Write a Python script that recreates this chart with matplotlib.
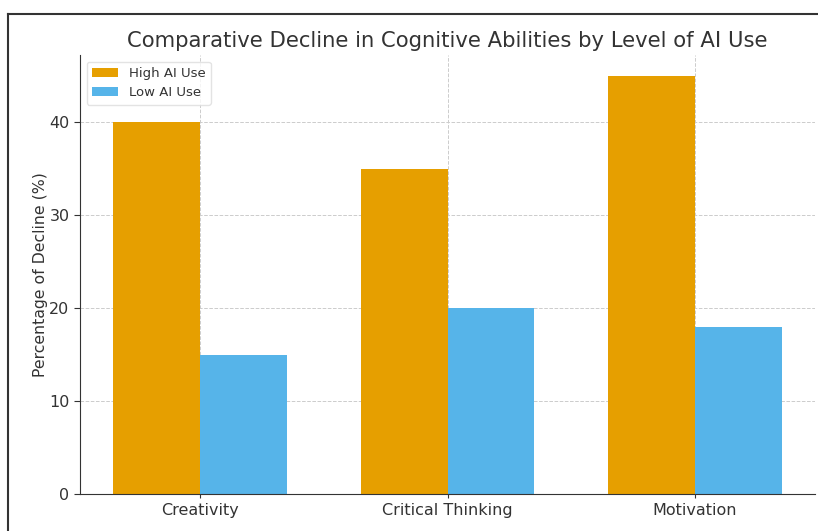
import numpy as np
import matplotlib
matplotlib.use("Agg")
import matplotlib.pyplot as plt
from matplotlib.lines import Line2D

categories = ["Creativity", "Critical Thinking", "Motivation"]
high_ai = [40, 35, 45]
low_ai = [15, 20, 18]
yticks = [0, 10, 20, 30, 40]

text_col = "#333333"
plt.rcParams["text.color"] = text_col
plt.rcParams["axes.labelcolor"] = text_col
plt.rcParams["xtick.color"] = text_col
plt.rcParams["ytick.color"] = text_col

fig = plt.figure(figsize=(8.18, 5.31), dpi=100)
ax = fig.add_axes([80 / 818, 1 - 494 / 531, 735 / 818, 439 / 531])

x = np.arange(len(categories))
w = 0.35
ax.bar(x - w / 2, high_ai, w, color="#E69F00", label="High AI Use", zorder=2)
ax.bar(x + w / 2, low_ai, w, color="#56B4E9", label="Low AI Use", zorder=2)

ax.set_xticks(x)
ax.set_xticklabels(categories, fontsize=11.5)
ax.set_yticks(yticks)
ax.tick_params(axis="y", labelsize=11.5, length=4)
ax.tick_params(axis="x", length=3)
ax.set_ylabel("Percentage of Decline (%)", fontsize=11.3, labelpad=1)
ax.set_title("Comparative Decline in Cognitive Abilities by Level of AI Use",
             fontsize=15.2, pad=6)
ax.grid(True, linestyle="--", color="#cccccc", linewidth=0.7, zorder=0)
ax.set_axisbelow(True)
for s in ["top", "right"]:
    ax.spines[s].set_visible(False)
for s in ["left", "bottom"]:
    ax.spines[s].set_color("#333333")

leg = ax.legend(loc="upper left", fontsize=9.5, frameon=True, fancybox=True)
leg.get_frame().set_edgecolor("#dddddd")

# outer frame that the screenshot crops through
fig.add_artist(Line2D([8 / 818, 8 / 818], [0, 1 - 14 / 531], color="#333333", lw=1.5))
fig.add_artist(Line2D([8 / 818, 1], [1 - 14 / 531, 1 - 14 / 531], color="#333333", lw=1.5))

fig.savefig("out.png", dpi=100)
